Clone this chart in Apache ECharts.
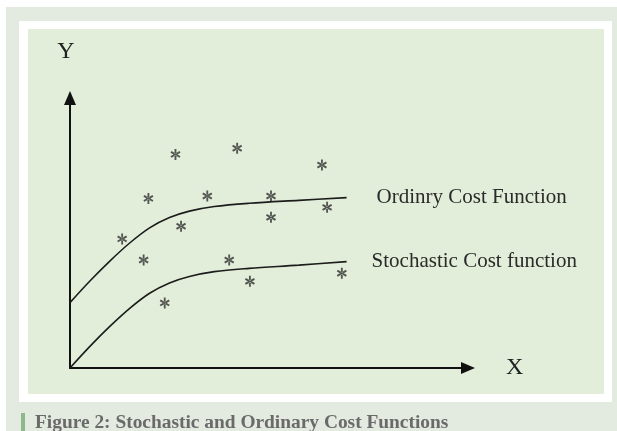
<!DOCTYPE html>
<html>
<head>
<meta charset="utf-8">
<title>Stochastic and Ordinary Cost Functions</title>
<script src="https://cdn.jsdelivr.net/npm/echarts@6/dist/echarts.min.js"></script>
<style>
    html, body { margin: 0; padding: 0; background: #fff; }
    #wrap { position: relative; width: 617px; height: 431px; overflow: hidden; }
    .outer { position: absolute; left: 6px; top: 7px; right: 0; bottom: 0; background: #e3ebe0; }
    .frame { position: absolute; left: 19px; top: 21px; width: 593px; height: 381px; background: #fff; }
    .inner { position: absolute; left: 28px; top: 29px; width: 576px; height: 365px; background: #e2eed9; }
    .mark { position: absolute; left: 21px; top: 413px; width: 4px; height: 18px; background: #8db98a; }
    #chart { position: absolute; left: 0; top: 0; width: 617px; height: 431px; }
</style>
</head>
<body>
<div id="wrap">
    <div class="outer"></div>
    <div class="frame"></div>
    <div class="inner"></div>
    <div class="mark"></div>
    <div id="chart"></div>
</div>
<script>
    // curve sample points (x, y in axis units, 0..100)
    var ordinaryX = [0, 5, 10, 15, 20, 25, 30, 36.25, 45, 57.5, 69.5];
    var ordinaryY = [24.2, 32.2, 39.6, 46.3, 51.9, 55.7, 58.1, 59.8, 61, 62.1, 63.1];
    var stochasticX = [0, 5, 10, 15, 20, 25, 30, 36.25, 45, 57.5, 69.5];
    var stochasticY = [0, 8, 15.4, 22.1, 27.7, 31.5, 33.9, 35.7, 36.9, 38.1, 39.4];

    // observations shown as asterisks
    var starX = [26.5, 42, 63.3, 19.7, 34.5, 50.5, 64.6, 50.5, 27.9, 13.1, 18.5, 40, 45.2, 68.3, 23.8];
    var starY = [79.1, 81.4, 75.2, 62.8, 63.7, 63.7, 59.5, 55.8, 52.5, 47.8, 40, 40, 32.1, 35.1, 24.1];

    var seriesNames = ['Ordinry Cost Function', 'Stochastic Cost function'];
    var axisNames = ['X', 'Y'];
    var captionText = 'Figure 2: Stochastic and Ordinary Cost Functions';

    var serif = '"Liberation Serif", "Times New Roman", serif';
    // six-armed asterisk, three bars through the centre
    var asterisk = 'path://M41,0L41,100L59,100L59,0Z' +
        'M1.2,34.5L10.2,18.9L98.8,65.5L89.8,81.1Z' +
        'M10.2,81.1L1.2,65.5L89.8,18.9L98.8,34.5Z';

    function pairs (xs, ys) {
        return xs.map(function (x, i) {
            return [x, ys[i]];
        });
    }

    function axis (name, gap, pad) {
        return {
            type: 'value',
            min: 0,
            max: 100,
            name: name,
            nameGap: gap,
            nameTextStyle: {fontFamily: serif, fontSize: 24, color: '#222', padding: pad},
            axisLine: {
                show: true,
                symbol: ['none', 'triangle'],
                symbolSize: [12, 14],
                lineStyle: {color: '#111', width: 2}
            },
            axisTick: {show: false},
            axisLabel: {show: false},
            splitLine: {show: false}
        };
    }

    function curve (name, data, dist) {
        return {
            name: name,
            type: 'line',
            data: data,
            smooth: 0.35,
            showSymbol: false,
            silent: true,
            lineStyle: {color: '#1c1c1c', width: 1.6},
            endLabel: {
                show: true,
                formatter: '{a}',
                distance: dist,
                color: '#2a2a2a',
                fontFamily: serif,
                fontSize: 21
            }
        };
    }

    var chart = echarts.init(document.getElementById('chart'));
    chart.setOption({
        animation: false,
        title: {
            text: captionText,
            left: 30,
            top: 408,
            textStyle: {fontFamily: serif, fontSize: 19.4, fontWeight: 'bold', color: '#6a6a6a'}
        },
        grid: {left: 70, top: 98, right: 149, bottom: 63},
        xAxis: axis(axisNames[0], 38, 0),
        yAxis: axis(axisNames[1], 34, [0, 8, 0, 0]),
        series: [
            curve(seriesNames[0], pairs(ordinaryX, ordinaryY), 30),
            curve(seriesNames[1], pairs(stochasticX, stochasticY), 25),
            {
                type: 'scatter',
                data: pairs(starX, starY),
                symbol: asterisk,
                symbolSize: [10, 11],
                silent: true,
                itemStyle: {color: '#2e2e2e'}
            }
        ]
    });
</script>
</body>
</html>
